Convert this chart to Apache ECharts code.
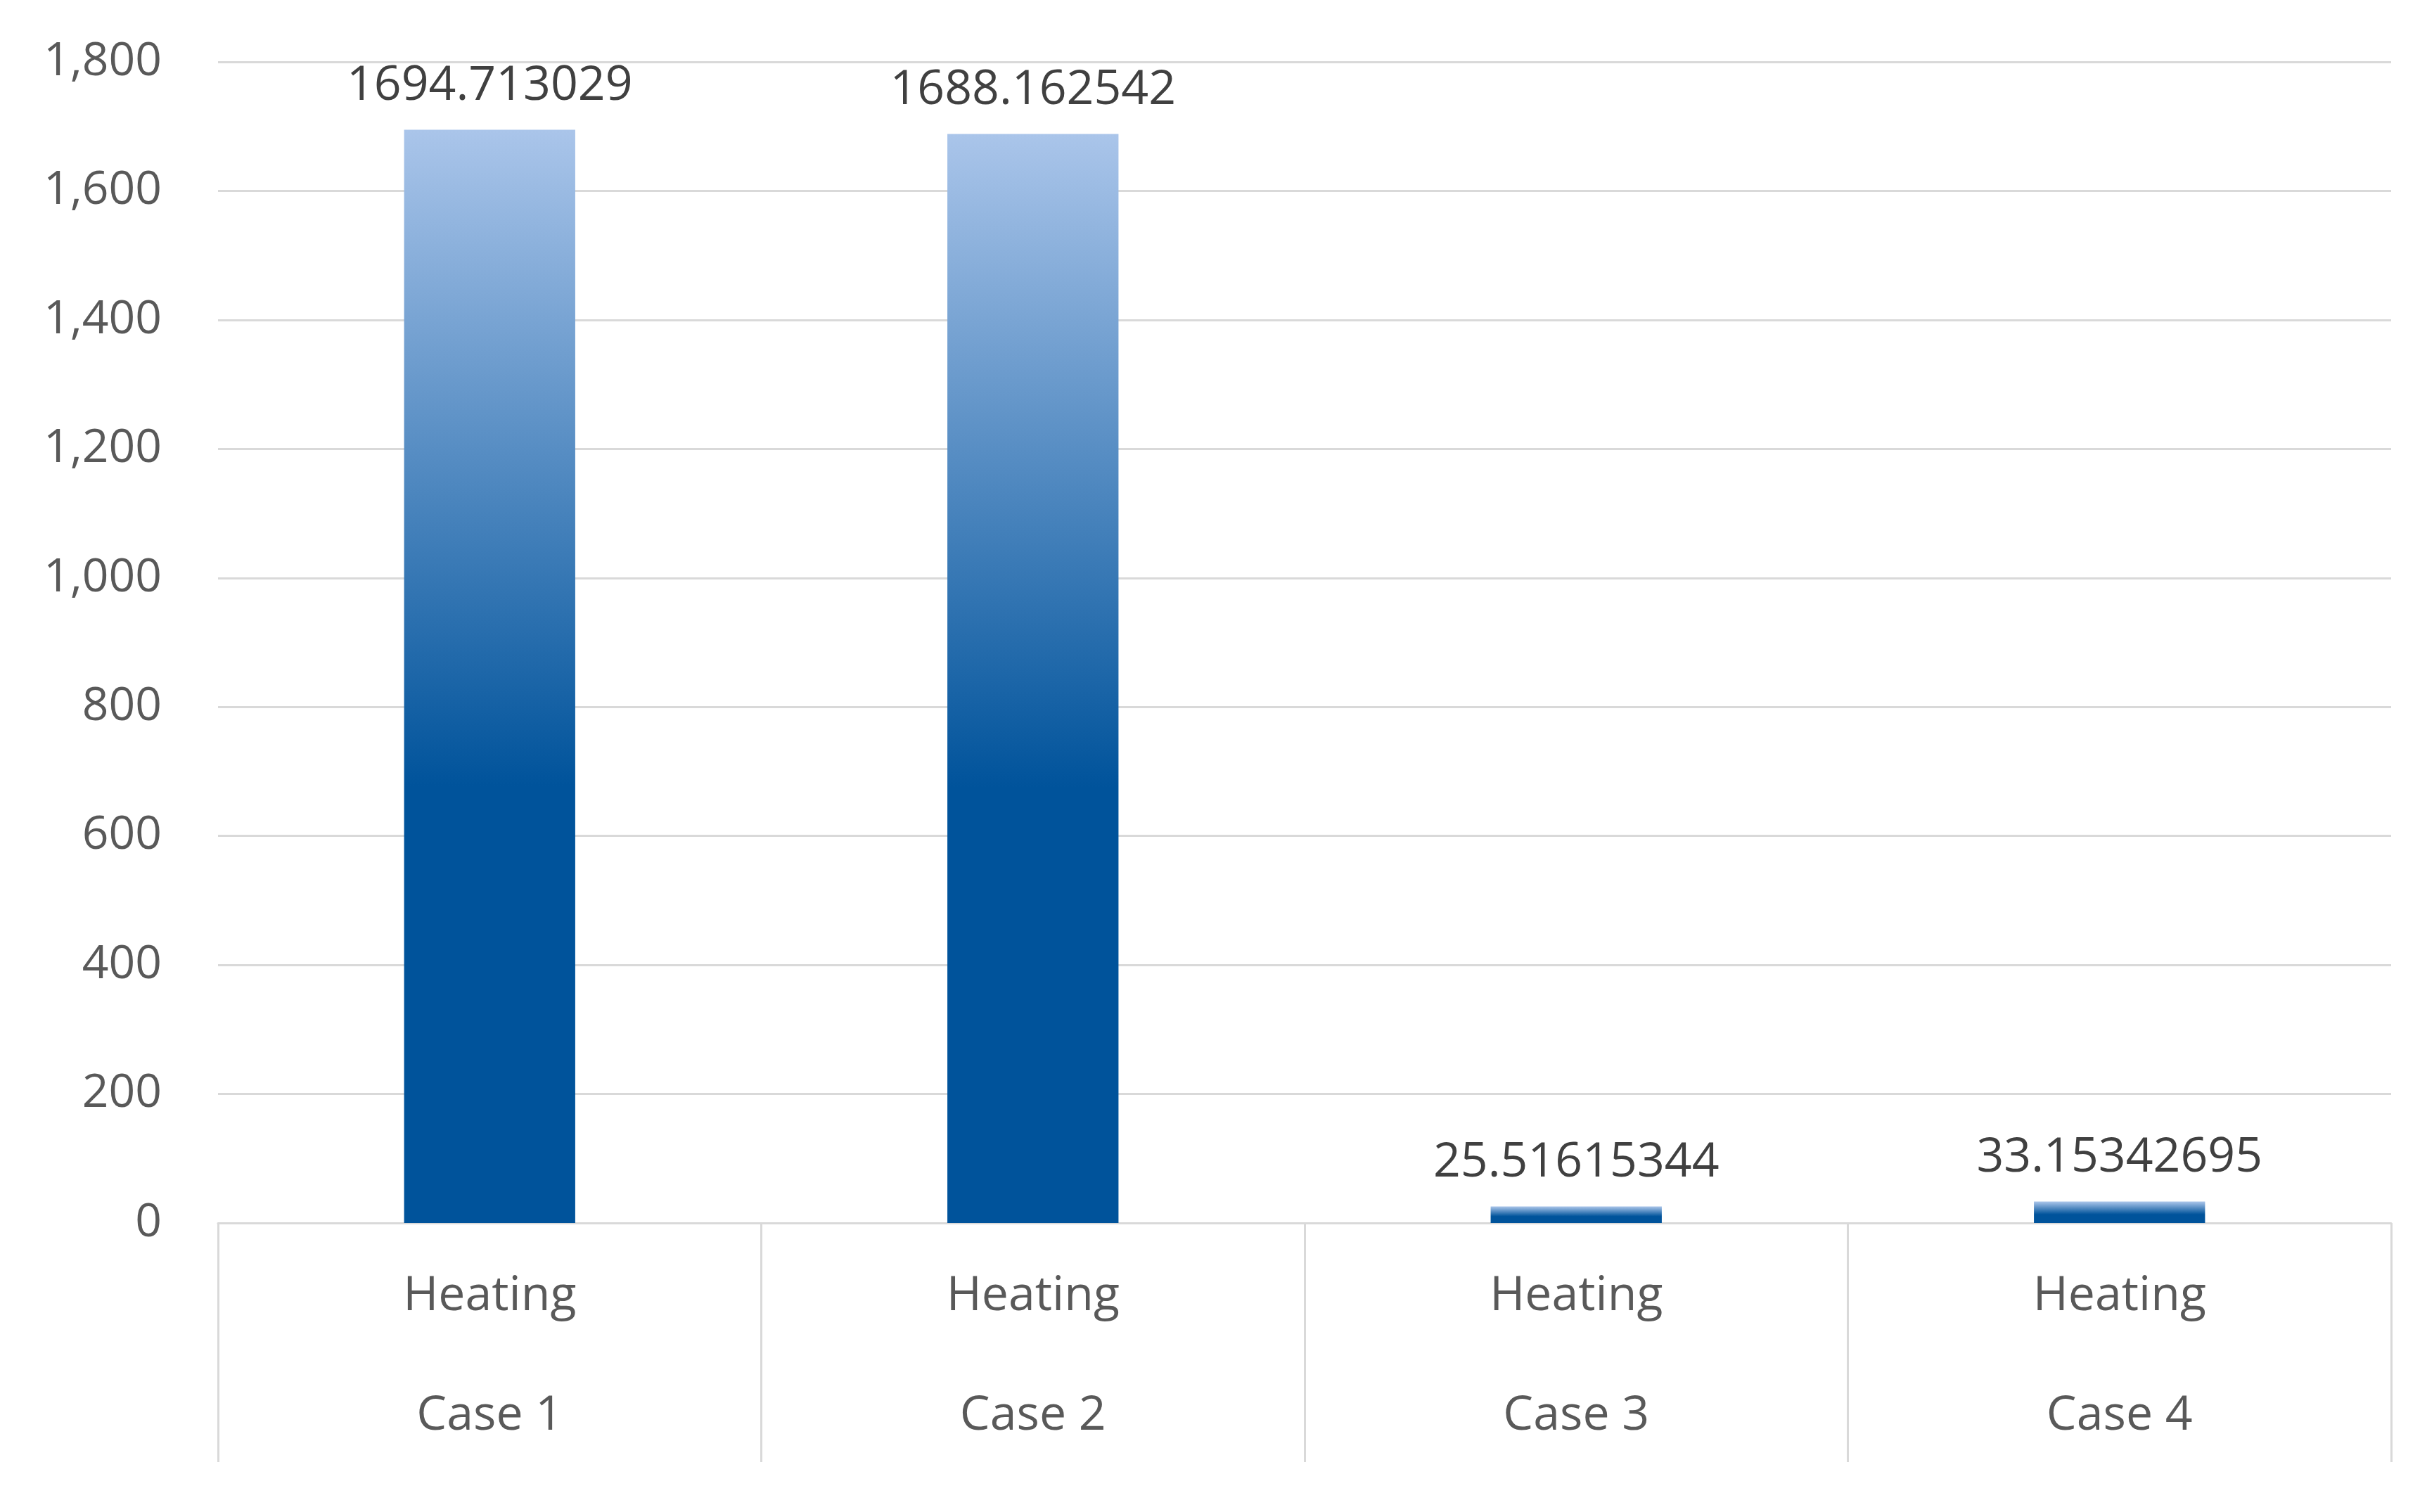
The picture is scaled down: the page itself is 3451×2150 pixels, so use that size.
<!DOCTYPE html>
<html><head><meta charset="utf-8">
<script src="https://cdn.jsdelivr.net/npm/echarts@6/dist/echarts.min.js"></script>
<style>html,body{margin:0;padding:0;background:#fff}#c{width:3451px;height:2150px}</style>
</head><body><div id="c"></div>
<script>
const groups = ['Heating','Heating','Heating','Heating'];
const cases = ['Case 1','Case 2','Case 3','Case 4'];
const values = [1694.713029, 1688.162542, 25.51615344, 33.15342695];
const yTicks = [0,200,400,600,800,1000,1200,1400,1600,1800];

const chart = echarts.init(document.getElementById('c'));
chart.setOption({
  animation:false,
  grid:{left:310,right:51,top:88,bottom:411},
  xAxis:{
    type:'category',
    data:cases.map((c,i)=>groups[i]+'\n'+c),
    axisLine:{lineStyle:{color:'#d9d9d9',width:3}},
    axisTick:{show:true,interval:0,alignWithLabel:false,length:340,lineStyle:{color:'#d9d9d9',width:3}},
    axisLabel:{interval:0,color:'#595959',fontSize:68,fontFamily:'Open Sans',lineHeight:170,margin:20}
  },
  yAxis:{
    type:'value',min:0,max:yTicks[yTicks.length-1],interval:200,
    axisLine:{show:false},axisTick:{show:false},
    splitLine:{lineStyle:{color:'#d9d9d9',width:3}},
    axisLabel:{color:'#595959',fontSize:66,fontFamily:'Open Sans',margin:80}
  },
  series:[{
    type:'bar',data:values,barWidth:'31.5%',
    itemStyle:{color:new echarts.graphic.LinearGradient(0,0,0,1,[
      {offset:0,color:'#AAC5EA'},{offset:0.6,color:'#00539B'},{offset:1,color:'#00539B'}])},
    label:{show:true,position:'top',distance:28,color:'#404040',fontSize:68,fontFamily:'Open Sans',
      formatter:p=>String(values[p.dataIndex])}
  }]
});
</script></body></html>
